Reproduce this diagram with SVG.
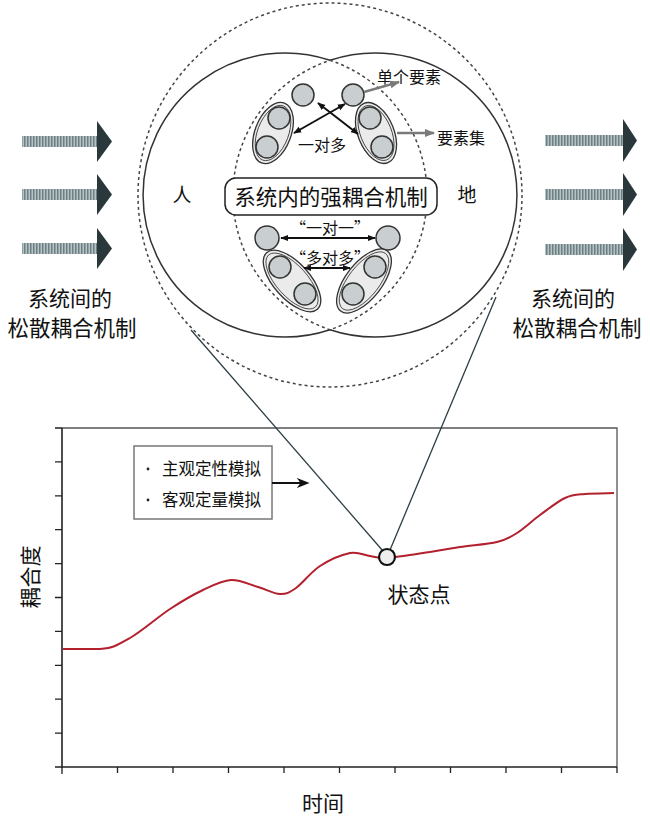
<svg xmlns="http://www.w3.org/2000/svg" width="650" height="822" viewBox="0 0 650 822">
<defs>
<style>
.t{font-family:"Noto Sans CJK SC","Noto Sans",sans-serif;fill:#111}
.dash{fill:none;stroke:#444;stroke-width:1.5;stroke-dasharray:3 3}
.solid{fill:none;stroke:#333;stroke-width:1.5}
.el{fill:#ebebeb;stroke:#333;stroke-width:1.3}
.eli{fill:none;stroke:#333;stroke-width:0.8}
.sc{fill:#c9cfd0;stroke:#333;stroke-width:1.5}
.bar{fill:url(#stripes)}
.head{fill:#2a373b}
.tick{stroke:#222;stroke-width:1.3}
.conn{fill:none;stroke:#111;stroke-width:2}
.gconn{fill:none;stroke:#7a7a7a;stroke-width:2.5}
.ray{fill:none;stroke:#2c3e44;stroke-width:1.3}
</style>
<pattern id="stripes" width="3" height="10" patternUnits="userSpaceOnUse"><rect width="3" height="10" fill="#b7c2c4"/><rect width="1.5" height="10" fill="#6d8084"/></pattern>
<marker id="ab" viewBox="0 0 10 10" refX="9" refY="5" markerWidth="8" markerHeight="8" orient="auto-start-reverse" markerUnits="userSpaceOnUse"><path d="M0,1 L10,5 L0,9 z" fill="#111"/></marker>
<marker id="ag" viewBox="0 0 10 10" refX="9" refY="5" markerWidth="10" markerHeight="10" orient="auto" markerUnits="userSpaceOnUse"><path d="M0,1 L10,5 L0,9 z" fill="#7a7a7a"/></marker>
<marker id="abig" viewBox="0 0 10 10" refX="8" refY="5" markerWidth="13" markerHeight="13" orient="auto" markerUnits="userSpaceOnUse"><path d="M0,1 L10,5 L0,9 L3,5 z" fill="#111"/></marker>
</defs>
<rect width="650" height="822" fill="#fff"/>

<g id="left-arrows">
<rect class="bar" x="22" y="136" width="76" height="11"/><path class="head" d="M97,121 L112,141.5 L97,162 z"/>
<rect class="bar" x="22" y="189" width="76" height="11"/><path class="head" d="M97,174 L112,194.5 L97,215 z"/>
<rect class="bar" x="22" y="243" width="76" height="11"/><path class="head" d="M97,228 L112,248.5 L97,269 z"/>
</g>
<g id="left-label">
<text class="t" x="70" y="306" font-size="21" text-anchor="middle">系统间的</text>
<text class="t" x="72" y="336" font-size="21.5" text-anchor="middle">松散耦合机制</text>
</g>
<g id="right-arrows">
<rect class="bar" x="545" y="135" width="79" height="11"/><path class="head" d="M623,119 L637,140.5 L623,162 z"/>
<rect class="bar" x="545" y="189" width="79" height="11"/><path class="head" d="M623,173 L637,194.5 L623,216 z"/>
<rect class="bar" x="545" y="244" width="79" height="11"/><path class="head" d="M623,228 L637,249.5 L623,271 z"/>
</g>
<g id="right-label">
<text class="t" x="573" y="306" font-size="21" text-anchor="middle">系统间的</text>
<text class="t" x="577" y="336" font-size="21.5" text-anchor="middle">松散耦合机制</text>
</g>

<g id="outer-boundary"><circle class="dash" cx="330" cy="195" r="192"/></g>
<g id="systems-union"><path class="solid" d="M330,60.3 A142,142 0 1 0 330,329.7 A142,142 0 1 0 330,60.3"/></g>
<g id="intersection"><path class="dash" d="M330,60.3 A142,142 0 0 1 330,329.7 A142,142 0 0 1 330,60.3"/></g>
<g id="ren"><text class="t" x="182" y="202" font-size="19" text-anchor="middle">人</text></g>
<g id="di"><text class="t" x="467" y="202" font-size="19" text-anchor="middle">地</text></g>

<g id="top-elements">
<circle class="sc" cx="303" cy="95" r="11"/>
<circle class="sc" cx="353" cy="95" r="11"/>
</g>
<g id="top-left-set">
<ellipse class="el" cx="273" cy="133" rx="32" ry="18" transform="rotate(-69 273 133)"/>
<ellipse class="eli" cx="273" cy="133" rx="29" ry="15.5" transform="rotate(-69 273 133)"/>
<circle class="sc" cx="279" cy="118" r="11"/>
<circle class="sc" cx="267" cy="147" r="11"/>
</g>
<g id="top-right-set">
<ellipse class="el" cx="376" cy="133" rx="32" ry="18" transform="rotate(68 376 133)"/>
<ellipse class="eli" cx="376" cy="133" rx="29" ry="15.5" transform="rotate(68 376 133)"/>
<circle class="sc" cx="370" cy="118" r="11"/>
<circle class="sc" cx="382" cy="147" r="11"/>
</g>
<g id="label-one-many"><text class="t" x="322" y="151" font-size="16" text-anchor="middle">一对多</text></g>
<g id="label-single"><text class="t" x="377" y="83" font-size="16">单个要素</text></g>
<g id="label-set"><text class="t" x="437" y="144" font-size="16">要素集</text></g>

<g id="strong-coupling">
<rect x="225" y="178" width="212" height="37" rx="11" fill="#fff" stroke="#222" stroke-width="1.5"/>
<text class="t" x="331" y="205" font-size="21.5" text-anchor="middle">系统内的强耦合机制</text>
</g>

<g id="bottom-elements">
<circle class="sc" cx="267" cy="238" r="12"/>
<circle class="sc" cx="388" cy="238" r="12"/>
</g>
<g id="label-one-one"><text class="t" x="330" y="234" font-size="16" text-anchor="middle">“一对一”</text></g>
<g id="bottom-left-set">
<ellipse class="el" cx="292" cy="281" rx="38" ry="18" transform="rotate(48 292 281)"/>
<ellipse class="eli" cx="292" cy="281" rx="35" ry="15.5" transform="rotate(48 292 281)"/>
<circle class="sc" cx="280" cy="267" r="11"/>
<circle class="sc" cx="305" cy="294" r="11"/>
</g>
<g id="bottom-right-set">
<ellipse class="el" cx="364" cy="281" rx="38" ry="18" transform="rotate(-52 364 281)"/>
<ellipse class="eli" cx="364" cy="281" rx="35" ry="15.5" transform="rotate(-52 364 281)"/>
<circle class="sc" cx="375" cy="267" r="11"/>
<circle class="sc" cx="353" cy="294" r="11"/>
</g>
<g id="label-many-many"><text class="t" x="330" y="264" font-size="16" text-anchor="middle">“多对多”</text></g>

<g id="plot-axes">
<path d="M62,428 L617,428 L617,767" fill="none" stroke="#555" stroke-width="1.3"/>
<path d="M62,428 L62,767 L617,767" fill="none" stroke="#222" stroke-width="1.6"/>
<path class="tick" d="M55,428H62M55,461.9H62M55,495.8H62M55,529.7H62M55,563.6H62M55,597.5H62M55,631.4H62M55,665.3H62M55,699.2H62M55,733.1H62M55,767H62"/>
<path class="tick" d="M62,767V774M117.5,767V773M173,767V773M228.5,767V773M284,767V773M339.5,767V773M395,767V773M450.5,767V773M506,767V773M561.5,767V773M617,767V773"/>
</g>
<g id="y-label"><text class="t" x="0" y="0" font-size="21" text-anchor="middle" transform="translate(38,577) rotate(-90)">耦合度</text></g>
<g id="x-label"><text class="t" x="323" y="811" font-size="21" text-anchor="middle">时间</text></g>
<g id="curve">
<path fill="none" stroke="#b3202e" stroke-width="2" d="M63,649 L100,649 C111.2,649 118.3,644.7 130,638 C141.7,631.3 157.8,617 170,609 C182.2,601 192.8,594.8 203,590 C213.2,585.2 221.8,580.5 231,580 C240.2,579.5 249.8,584.7 258,587 C266.2,589.3 273.7,593.8 280,594 C286.3,594.2 289.3,592.7 296,588 C302.7,583.3 311,571.8 320,566 C329,560.2 341.7,554.7 350,553 C358.3,551.3 363.8,555.2 370,556 C376.2,556.8 377,558.7 387,558 C397,557.3 417.8,553.8 430,552 C442.2,550.2 448.8,548.7 460,547 C471.2,545.3 487.5,544.3 497,542 C506.5,539.7 509.8,537.5 517,533 C524.2,528.5 532,520.8 540,515 C548,509.2 557.5,501.5 565,498 C572.5,494.5 576.8,494.8 585,494 C593.2,493.2 609.2,493.2 614,493"/>
</g>
<g id="legend">
<rect x="134" y="446" width="138" height="73" fill="#fff" stroke="#777" stroke-width="1.5"/>
<circle cx="148" cy="469" r="1.4" fill="#222"/>
<circle cx="148" cy="500" r="1.4" fill="#222"/>
<text class="t" x="162" y="475" font-size="16.5">主观定性模拟</text>
<text class="t" x="162" y="506" font-size="16.5">客观定量模拟</text>
</g>

<g id="connectors">
<line class="ray" x1="191" y1="330" x2="383" y2="551"/>
<line class="ray" x1="496" y1="297" x2="390" y2="550"/>
<line class="conn" x1="318" y1="103" x2="358" y2="134" marker-start="url(#ab)" marker-end="url(#ab)"/>
<line class="conn" x1="345" y1="104" x2="294" y2="133" marker-start="url(#ab)" marker-end="url(#ab)"/>
<line class="gconn" x1="364" y1="92" x2="399" y2="82" marker-end="url(#ag)"/>
<line class="gconn" x1="397" y1="133" x2="434" y2="133" marker-end="url(#ag)"/>
<line class="conn" x1="281" y1="238" x2="375" y2="238" marker-start="url(#ab)" marker-end="url(#ab)"/>
<line class="conn" x1="304" y1="268" x2="350" y2="268" stroke="#333" marker-start="url(#ab)" marker-end="url(#ab)"/>
<line class="conn" x1="272" y1="483" x2="307" y2="483" stroke-width="3.5" marker-end="url(#abig)"/>
</g>
<g id="state-point">
<circle cx="387" cy="557" r="8" fill="#eee" stroke="#111" stroke-width="2.2"/>
<text class="t" x="419" y="602" font-size="21" text-anchor="middle">状态点</text>
</g>
</svg>
